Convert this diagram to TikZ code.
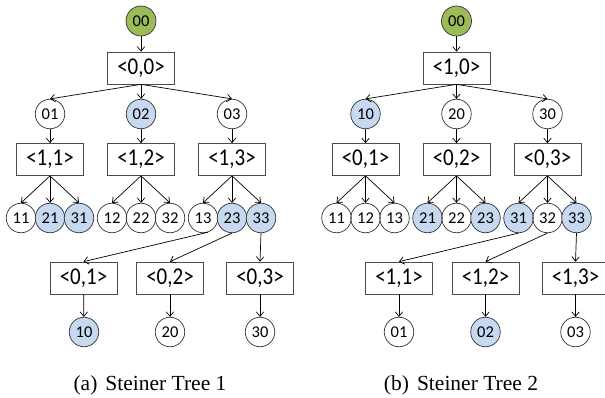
\documentclass[tikz,border=0pt]{standalone}
\usepackage{fontspec}
\usepackage{graphicx}
\setmainfont{Liberation Serif}
\newfontfamily\carlito{Carlito}
\usetikzlibrary{arrows.meta}
\definecolor{rootgreen}{HTML}{9BBB59}
\definecolor{termblue}{HTML}{C6D9F1}
\newcommand{\bxt}[1]{\scalebox{1}[1.15]{#1}}
\tikzset{
  cir/.style={circle, draw=black!80, line width=0.7pt, minimum size=29.5pt, inner sep=0pt,
    font=\carlito\fontsize{16.5}{16.5}\selectfont},
  rootc/.style={cir, fill=rootgreen, minimum size=30pt},
  term/.style={cir, fill=termblue},
  boxn/.style={rectangle, draw=black!70, line width=0.7pt, minimum width=67pt, minimum height=32pt,
    inner sep=0pt, font=\carlito\fontsize{21}{21}\selectfont},
  arr/.style={-{Straight Barb[length=4.5pt,width=7.5pt]}, line width=0.7pt},
  capt/.style={font=\fontsize{21.5}{21.5}\selectfont, anchor=base}
}
\begin{document}
\begin{tikzpicture}[x=1pt,y=-1pt]
\clip (0,0) rectangle (605,398);
\fill[white] (0,0) rectangle (605,398);
% ---------- Tree 1 ----------
\node[rootc] (a00) at (141,21) {00};
\node[boxn] (aB00) at (141,68) {\bxt{<0,0>}};
\node[cir] (a01) at (50,114) {01};
\node[term] (a02) at (141,114) {02};
\node[cir] (a03) at (232,114) {03};
\node[boxn] (aB11) at (50,159.5) {\bxt{<1,1>}};
\node[boxn] (aB12) at (141,159.5) {\bxt{<1,2>}};
\node[boxn] (aB13) at (232,159.5) {\bxt{<1,3>}};
\node[cir] (a11) at (21,218) {11};
\node[term] (a21) at (50,218) {21};
\node[term] (a31) at (79,218) {31};
\node[cir] (a12) at (112,218) {12};
\node[cir] (a22) at (141,218) {22};
\node[cir] (a32) at (170,218) {32};
\node[cir] (a13) at (203,218) {13};
\node[term] (a23) at (232,218) {23};
\node[term] (a33) at (261,218) {33};
\node[boxn] (aB01) at (83.5,278) {\bxt{<0,1>}};
\node[boxn] (aB02) at (170,278) {\bxt{<0,2>}};
\node[boxn] (aB03) at (260,278) {\bxt{<0,3>}};
\node[term] (a10) at (84,332) {10};
\node[cir] (a20) at (170,332) {20};
\node[cir] (a30) at (260,332) {30};
\draw[arr] (a00) -- (aB00);
\draw[arr] (aB00.south) -- (a01.north);
\draw[arr] (aB00.south) -- (a02.north);
\draw[arr] (aB00.south) -- (a03.north);
\draw[arr] (a01) -- (aB11);
\draw[arr] (a02) -- (aB12);
\draw[arr] (a03) -- (aB13);
\draw[arr] (aB11.south) -- (a11.north);
\draw[arr] (aB11.south) -- (a21.north);
\draw[arr] (aB11.south) -- (a31.north);
\draw[arr] (aB12.south) -- (a12.north);
\draw[arr] (aB12.south) -- (a22.north);
\draw[arr] (aB12.south) -- (a32.north);
\draw[arr] (aB13.south) -- (a13.north);
\draw[arr] (aB13.south) -- (a23.north);
\draw[arr] (aB13.south) -- (a33.north);
\draw[arr] (a13.-70) -- (aB01.north);
\draw[arr] (a23.south) -- (aB02.north);
\draw[arr] (a33.south) -- (aB03.north);
\draw[arr] (aB01) -- (a10);
\draw[arr] (aB02) -- (a20);
\draw[arr] (aB03) -- (a30);
\node[capt] (capa) at (150,390) {(a)\hspace{8pt}Steiner Tree 1};
% ---------- Tree 2 ----------
\node[rootc] (b00) at (456.5,21) {00};
\node[boxn] (bB10) at (456.5,68) {\bxt{<1,0>}};
\node[term] (b10) at (365.5,114) {10};
\node[cir] (b20) at (456.5,114) {20};
\node[cir] (b30) at (547.5,114) {30};
\node[boxn] (bB01) at (365.5,159.5) {\bxt{<0,1>}};
\node[boxn] (bB02) at (456.5,159.5) {\bxt{<0,2>}};
\node[boxn] (bB03) at (547.5,159.5) {\bxt{<0,3>}};
\node[cir] (b11) at (336.5,218) {11};
\node[cir] (b12) at (365.5,218) {12};
\node[cir] (b13) at (394.5,218) {13};
\node[term] (b21) at (427.5,218) {21};
\node[cir] (b22) at (456.5,218) {22};
\node[term] (b23) at (485.5,218) {23};
\node[term] (b31) at (518.5,218) {31};
\node[cir] (b32) at (547.5,218) {32};
\node[term] (b33) at (576.5,218) {33};
\node[boxn] (bB11) at (399,278) {\bxt{<1,1>}};
\node[boxn] (bB12) at (485.5,278) {\bxt{<1,2>}};
\node[boxn] (bB13) at (575.5,278) {\bxt{<1,3>}};
\node[cir] (b01) at (399,332) {01};
\node[term] (b02) at (485.5,332) {02};
\node[cir] (b03) at (575.5,332) {03};
\draw[arr] (b00) -- (bB10);
\draw[arr] (bB10.south) -- (b10.north);
\draw[arr] (bB10.south) -- (b20.north);
\draw[arr] (bB10.south) -- (b30.north);
\draw[arr] (b10) -- (bB01);
\draw[arr] (b20) -- (bB02);
\draw[arr] (b30) -- (bB03);
\draw[arr] (bB01.south) -- (b11.north);
\draw[arr] (bB01.south) -- (b12.north);
\draw[arr] (bB01.south) -- (b13.north);
\draw[arr] (bB02.south) -- (b21.north);
\draw[arr] (bB02.south) -- (b22.north);
\draw[arr] (bB02.south) -- (b23.north);
\draw[arr] (bB03.south) -- (b31.north);
\draw[arr] (bB03.south) -- (b32.north);
\draw[arr] (bB03.south) -- (b33.north);
\draw[arr] (b31.south) -- (bB11.north);
\draw[arr] (b32.south) -- (bB12.north);
\draw[arr] (b33.south) -- (bB13.north);
\draw[arr] (bB11) -- (b01);
\draw[arr] (bB12) -- (b02);
\draw[arr] (bB13) -- (b03);
\node[capt] (capb) at (461,390) {(b)\hspace{8pt}Steiner Tree 2};
\end{tikzpicture}
\end{document}
